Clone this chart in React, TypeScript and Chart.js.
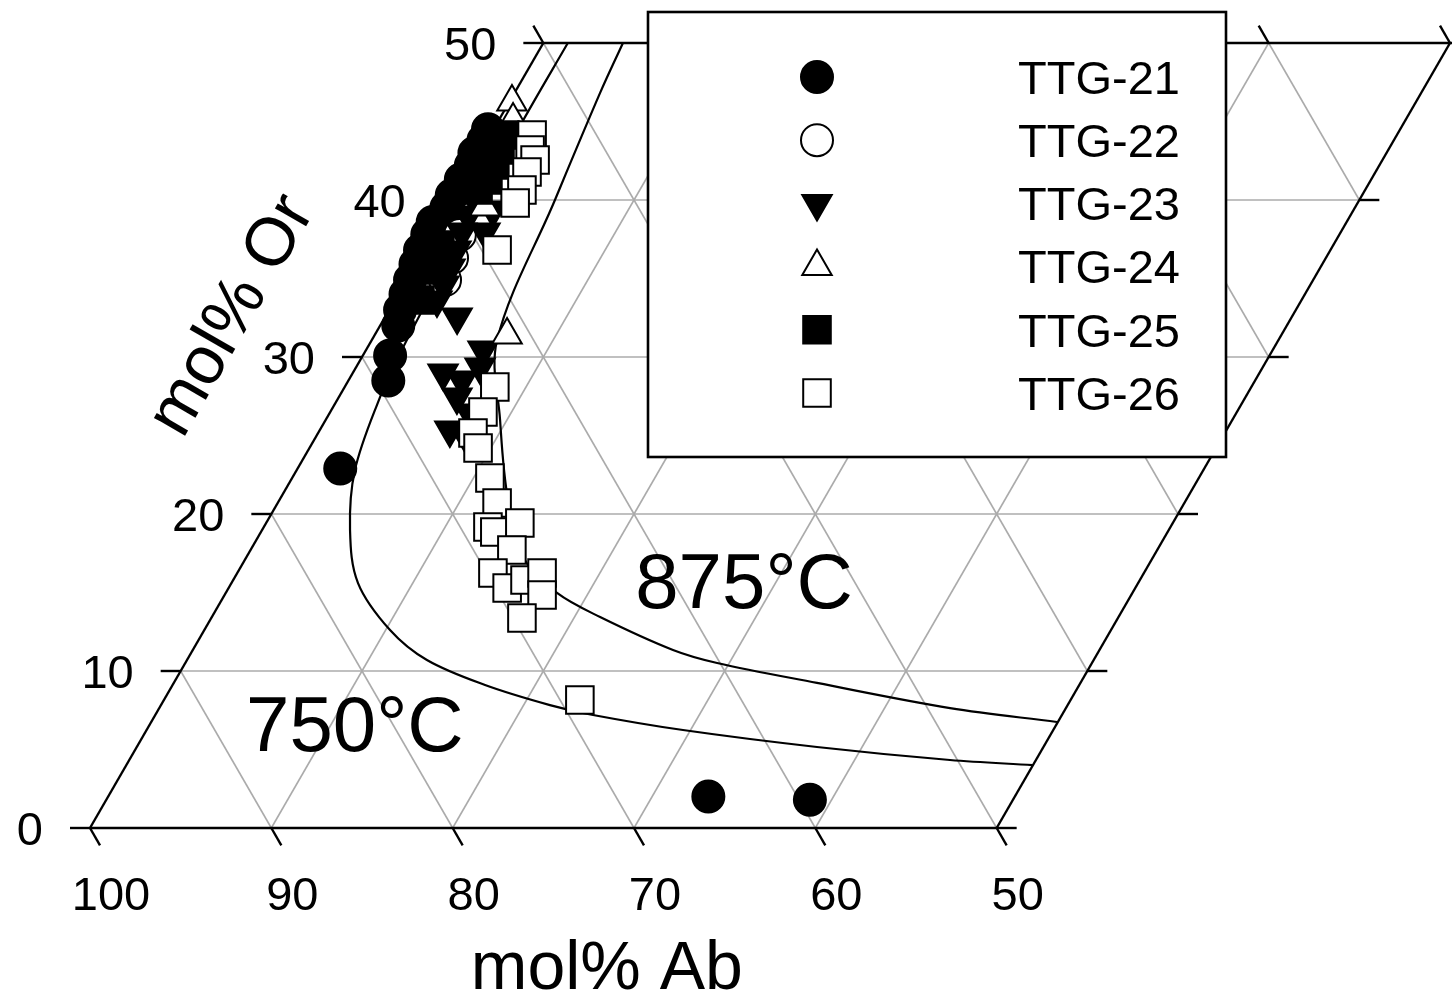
import React, { useEffect, useRef } from 'react';
import { Chart, registerables } from 'chart.js';

Chart.register(...registerables);

const FONT = '"Liberation Sans", Arimo, Arial, sans-serif';

const seriesLabels = ['TTG-21', 'TTG-22', 'TTG-23', 'TTG-24', 'TTG-25', 'TTG-26'];

// points are [mol% Ab, mol% Or]  (An = 100 - Ab - Or)
const TTG21: [number, number][] = [
  [55.8, 44.5], [56.4, 43.8], [57.3, 43.0], [57.9, 42.2], [58.9, 41.3], [59.9, 40.3],
  [60.6, 39.5], [61.8, 38.6], [62.5, 37.8], [63.4, 36.8], [64.1, 35.9], [64.9, 34.9],
  [65.6, 34.0], [66.4, 33.0], [67.0, 32.0], [68.4, 30.1], [69.3, 28.5], [74.75, 22.9],
  [64.9, 2.0], [59.4, 1.8],
];
const TTG22: [number, number][] = [
  [60.72, 37.77], [61.88, 36.31], [62.97, 34.9],
];
const TTG23: [number, number][] = [
  [58.77, 40.0], [59.63, 39.04], [60.51, 37.96], [61.41, 36.82], [62.31, 35.67],
  [63.19, 34.59], [64.05, 33.63], [58.1, 39.36], [59.24, 37.96],
  [63.48, 32.55], [63.1, 30.45], [63.81, 29.36], [66.04, 28.98], [65.22, 28.53],
  [66.04, 27.45], [65.83, 26.43], [67.48, 25.35], [66.81, 25.03],
];
const TTG24: [number, number][] = [
  [53.61, 46.24], [54.12, 45.1], [58.45, 39.55], [61.3, 31.4],
];
const TTG25: [number, number][] = [
  [55.05, 44.14], [55.8, 43.18], [56.56, 42.23], [57.42, 41.27], [58.28, 40.64],
  [62.14, 37.13], [63.48, 35.54], [64.99, 33.63],
];
const TTG26: [number, number][] = [
  [53.55, 44.14], [54.14, 43.18], [54.18, 42.55], [55.01, 41.78], [55.86, 40.64],
  [56.65, 39.81], [59.14, 36.82],
  [63.63, 28.09], [65.08, 26.5], [66.3, 25.16], [66.5, 24.2], [66.8, 22.29], [67.2, 20.7],
  [68.47, 19.17], [68.25, 18.85], [66.58, 19.43], [67.88, 17.71], [69.66, 16.24],
  [69.35, 15.29], [68.11, 15.8], [66.95, 16.24], [67.65, 14.84], [69.49, 13.38],
  [68.91, 8.15],
];

// isotherms [mol% Ab, mol% Or]
const curve750: [number, number][] = [
  [48.65, 50], [53.65, 45], [58.5, 40], [63.25, 35], [68.0, 30], [70.28, 27.45],
  [73.99, 22.8], [76.17, 18.98], [77.42, 15.6], [77.15, 12.61], [76.07, 10.7],
  [73.66, 9.11], [70.72, 7.83], [68.66, 7.2], [64.18, 6.24], [57.33, 5.16],
  [50.41, 4.33], [46.0, 4.01],
];
const curve875: [number, number][] = [
  [45.61, 50], [48.46, 46.82], [54.36, 40.0], [62.01, 31.08], [64.39, 25.99],
  [66.5, 20.89], [67.48, 17.07], [66.76, 14.97], [65.15, 13.44], [62.18, 11.34],
  [60.16, 10.51], [55.29, 9.24], [48.75, 7.64], [43.3, 6.75],
];

const abTickLabels = ['100', '90', '80', '70', '60', '50'];
const orTickLabels = ['0', '10', '20', '30', '40', '50'];
const isothermLabels = ['750°C', '875°C'];

const seriesData = [TTG21, TTG22, TTG23, TTG24, TTG25, TTG26];

type Shape = 'circle' | 'triangle' | 'rect';
const shapes: Shape[] = ['circle', 'circle', 'triangle', 'triangle', 'rect', 'rect'];
const filled = [true, false, true, false, true, false];
const pointingDown = [false, false, true, false, false, false];
const radii: Record<Shape, number> = { circle: 16, triangle: 17, rect: 19.5 };

const toPt = ([ab, or]: [number, number]) => ({ x: 100 - ab - or / 2, y: or });

function markerPath(ctx: CanvasRenderingContext2D, shape: Shape, x: number, y: number, r: number, down: boolean) {
  ctx.beginPath();
  if (shape === 'circle') {
    ctx.arc(x, y, r, 0, Math.PI * 2);
  } else if (shape === 'rect') {
    const s = Math.SQRT1_2 * r;
    ctx.rect(x - s, y - s, 2 * s, 2 * s);
  } else {
    let rad = down ? Math.PI : 0;
    ctx.moveTo(x + Math.sin(rad) * r, y - Math.cos(rad) * r);
    rad += (2 * Math.PI) / 3;
    ctx.lineTo(x + Math.sin(rad) * r, y - Math.cos(rad) * r);
    rad += (2 * Math.PI) / 3;
    ctx.lineTo(x + Math.sin(rad) * r, y - Math.cos(rad) * r);
  }
  ctx.closePath();
}

function textC(ctx: CanvasRenderingContext2D, t: string, x: number, yc: number, size: number, align: CanvasTextAlign) {
  ctx.font = `${size}px ${FONT}`;
  ctx.textAlign = align;
  ctx.textBaseline = 'alphabetic';
  ctx.fillText(t, x, yc + 0.358 * size);
}

const ternaryPlugin = {
  id: 'ternaryFrame',
  beforeDraw(chart: any) {
    const { ctx, width, height } = chart;
    ctx.save();
    ctx.fillStyle = '#ffffff';
    ctx.fillRect(0, 0, width, height);
    ctx.restore();
  },
  beforeDatasetsDraw(chart: any) {
    const { ctx } = chart;
    const xs = chart.scales.x;
    const ys = chart.scales.y;
    // (An, Or) -> pixel
    const P = (an: number, or: number): [number, number] => [xs.getPixelForValue(an + or / 2), ys.getPixelForValue(or)];
    const seg = (a: [number, number], b: [number, number]) => {
      ctx.beginPath();
      ctx.moveTo(a[0], a[1]);
      ctx.lineTo(b[0], b[1]);
      ctx.stroke();
    };
    ctx.save();
    ctx.lineCap = 'butt';
    // grid
    ctx.strokeStyle = '#ababab';
    ctx.lineWidth = 1.6;
    for (let k = 10; k <= 40; k += 10) seg(P(0, k), P(50, k));
    for (let c = 10; c <= 40; c += 10) seg(P(c, 0), P(c, 50));
    for (let c = 10; c <= 90; c += 10) {
      const an0 = Math.min(c, 50);
      const or1 = Math.min(c, 50);
      seg(P(an0, c - an0), P(c - or1, or1));
    }
    // frame
    ctx.strokeStyle = '#000';
    ctx.lineWidth = 2.4;
    seg(P(0, 0), P(0, 50));
    seg(P(50, 0), P(50, 50));
    seg(P(0, 0), P(50, 0));
    seg(P(0, 50), P(50, 50));
    // ticks
    const tl = 20;
    const dx = tl * 0.5;
    const dy = tl * Math.sqrt(3) / 2;
    for (let k = 0; k <= 50; k += 10) {
      const a = P(0, k);
      seg(a, [a[0] - tl, a[1]]);
      const b = P(50, k);
      seg(b, [b[0] + tl, b[1]]);
    }
    for (let c = 0; c <= 50; c += 10) {
      const a = P(c, 0);
      seg(a, [a[0] + dx, a[1] + dy]);
      const b = P(c, 50);
      seg(b, [b[0] - dx, b[1] - dy]);
    }
    // tick labels
    ctx.fillStyle = '#000';
    abTickLabels.forEach((t, i) => {
      const a = P(i * 10, 0);
      textC(ctx, t, a[0] + 21, a[1] + 65, 47, 'center');
    });
    orTickLabels.forEach((t, i) => {
      const a = P(0, i * 10);
      textC(ctx, t, a[0] - 47, a[1], 47, 'right');
    });
    // axis titles
    const bt = P(28.5, 0);
    textC(ctx, 'mol% Ab', bt[0], bt[1] + 137, 68, 'center');
    ctx.save();
    ctx.translate(xs.getPixelForValue(7.6), ys.getPixelForValue(32.8));
    ctx.rotate(-Math.PI / 3);
    textC(ctx, 'mol% Or', 0, 0, 68, 'center');
    ctx.restore();
    // isotherm labels
    const l750 = P(11.26, 6.69);
    textC(ctx, isothermLabels[0], l750[0], l750[1], 78, 'center');
    const l875 = P(28.17, 15.8);
    textC(ctx, isothermLabels[1], l875[0], l875[1], 78, 'center');
    ctx.restore();
  },
  afterDraw(chart: any) {
    const { ctx } = chart;
    ctx.save();
    const bx = 648, by = 12, bw = 578, bh = 445;
    ctx.fillStyle = '#fff';
    ctx.fillRect(bx, by, bw, bh);
    ctx.strokeStyle = '#000';
    ctx.lineWidth = 2.6;
    ctx.strokeRect(bx, by, bw, bh);
    seriesLabels.forEach((lab, i) => {
      const y = 77 + i * 63.2;
      const shape = shapes[i];
      markerPath(ctx, shape, 817, y, radii[shape], pointingDown[i]);
      ctx.fillStyle = filled[i] ? '#000' : '#fff';
      ctx.fill();
      ctx.lineWidth = 2;
      ctx.strokeStyle = '#000';
      ctx.stroke();
      ctx.fillStyle = '#000';
      textC(ctx, lab, 1018, y, 47, 'left');
    });
    ctx.restore();
  },
};

export default function App() {
  const ref = useRef<HTMLCanvasElement | null>(null);
  useEffect(() => {
    if (!ref.current) return;
    const curveStyle = {
      type: 'line' as const,
      borderColor: '#000',
      borderWidth: 2.2,
      pointRadius: 0,
      tension: 0.35,
      fill: false,
      order: 20,
      clip: false as any,
    };
    const datasets: any[] = [
      { ...curveStyle, label: '750°C', data: curve750.map(toPt) },
      { ...curveStyle, label: '875°C', data: curve875.map(toPt) },
      ...seriesData.map((d, i) => ({
        type: 'scatter',
        label: seriesLabels[i],
        data: d.map(toPt),
        pointStyle: shapes[i],
        pointRadius: radii[shapes[i]],
        pointHoverRadius: radii[shapes[i]],
        pointRotation: pointingDown[i] ? 180 : 0,
        backgroundColor: filled[i] ? '#000' : '#fff',
        borderColor: '#000',
        borderWidth: 2,
        order: 6 - i,
        clip: false,
      })),
    ];
    const chart = new Chart(ref.current, {
      type: 'scatter',
      data: { datasets },
      options: {
        animation: false,
        responsive: false,
        devicePixelRatio: 1,
        events: [],
        layout: { autoPadding: false, padding: { left: 90, right: 2, top: 43, bottom: 174 } },
        scales: {
          x: { type: 'linear', min: 0, max: 75, display: false },
          y: { type: 'linear', min: 0, max: 50, display: false },
        },
        plugins: { legend: { display: false }, tooltip: { enabled: false } },
      },
      plugins: [ternaryPlugin],
    });
    return () => chart.destroy();
  }, []);
  return (
    <div style={{ position: 'absolute', left: 0, top: 0, width: 1452, height: 1002, background: '#fff' }}>
      <canvas ref={ref} width={1452} height={1002} style={{ display: 'block' }} />
    </div>
  );
}
